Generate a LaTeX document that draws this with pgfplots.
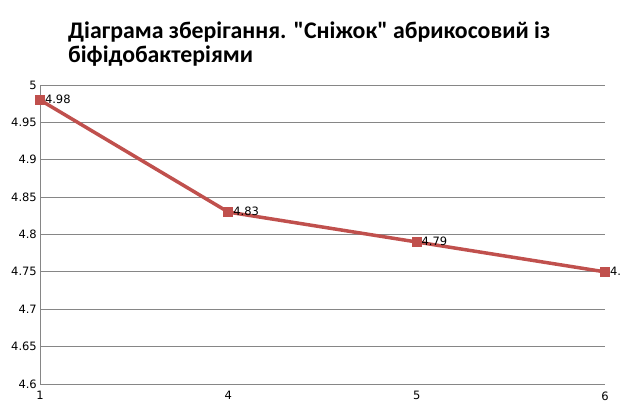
\documentclass[border=0pt]{standalone}
\usepackage{pgfplots}
\pgfplotsset{compat=1.18}
\usepackage{fontspec}
\setmainfont{DejaVu Sans}
\newfontfamily\titlefont{Carlito}
\definecolor{serred}{RGB}{192,80,77}
\definecolor{gridgray}{RGB}{134,134,134}

\begin{document}
\begin{tikzpicture}[x=1bp,y=1bp]
\begin{axis}[
  at={(40bp,32bp)}, anchor=south west,
  width=565bp, height=299bp, scale only axis,
  xmin=0, xmax=3,
  xtick={0,1,2,3}, xticklabels={1,4,5,6},
  ymin=4.6, ymax=5,
  ytick distance=0.05,
  axis line style={gridgray, line width=0.8bp},
  axis x line*=bottom, axis y line*=left,
  ymajorgrids=true,
  grid style={gridgray, line width=0.8bp},
  major tick length=0pt,
  tick label style={font=\fontsize{11.5bp}{13bp}\selectfont},
  yticklabel style={/pgf/number format/fixed, /pgf/number format/precision=2, inner sep=3bp},
  xticklabel style={yshift=-4bp},
  /pgf/number format/assume math mode=true,
  clip=false,
  nodes near coords,
  nodes near coords style={font=\fontsize{11.5bp}{13bp}\selectfont, black, anchor=west, inner sep=0pt, xshift=5bp, yshift=0.5bp, /pgf/number format/fixed, /pgf/number format/precision=2},
]
\addplot[serred, line width=3.5bp, mark=square*, mark size=4.5bp,
  mark options={fill=serred, draw=serred, line width=0pt}] coordinates {
  (0,4.98) (1,4.83) (2,4.79) (3,4.75)
};
\end{axis}
\node[anchor=base west, inner sep=0pt, font=\titlefont\bfseries\fontsize{23.8bp}{26bp}\selectfont] at (68,378) {Діаграма зберігання. "Сніжок" абрикосовий із};
\node[anchor=base west, inner sep=0pt, font=\titlefont\bfseries\fontsize{23.8bp}{26bp}\selectfont] at (68,354) {біфідобактеріями};
\pgfresetboundingbox
\path[use as bounding box] (0,0) rectangle (621,416);
\end{tikzpicture}
\end{document}
